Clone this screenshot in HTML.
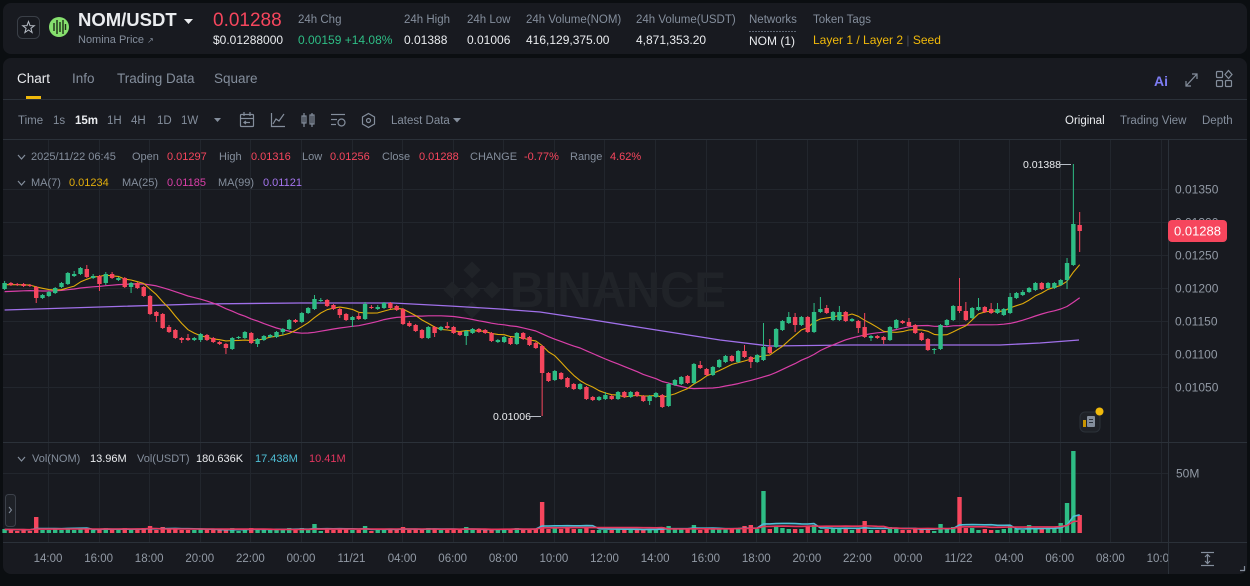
<!DOCTYPE html>
<html><head><meta charset="utf-8">
<style>
html,body{margin:0;padding:0;background:#0b0e11;width:1250px;height:586px;overflow:hidden;font-family:"Liberation Sans",sans-serif;}
.p{position:absolute;background:#181a20;border-radius:8px;}
.t{position:absolute;white-space:nowrap;line-height:1;}
.g{color:#848e9c}.w{color:#eaecef}.r{color:#f6465d}.gr{color:#2ebd85}.y{color:#f0b90b}
svg{position:absolute;left:0;top:0}
</style></head><body>
<div class="p" style="left:3px;top:3px;width:1244px;height:51px"></div>
<div class="p" style="left:3px;top:58px;width:1244px;height:516px"></div>

<svg width="1250" height="586" viewBox="0 0 1250 586">
<defs>
<clipPath id="xc"><rect x="0" y="540" width="1168" height="40"/></clipPath>
<clipPath id="pc"><rect x="3" y="140" width="1165" height="302"/></clipPath>
</defs>
<!-- header icons -->
<rect x="17.5" y="16.5" width="22" height="22" rx="5" fill="none" stroke="#3a3f47"/>
<polygon points="28.5,21.5 30,25.6 34.3,25.7 30.9,28.3 32.1,32.5 28.5,30 24.9,32.5 26.1,28.3 22.7,25.7 27,25.6" fill="none" stroke="#b7bdc6" stroke-width="1"/>
<circle cx="59" cy="27" r="10" fill="#86e06e"/>
<g stroke="#1d2b17" stroke-width="1.4"><line x1="54" y1="23" x2="54" y2="31"/><line x1="57" y1="20" x2="57" y2="34"/><line x1="60" y1="22" x2="60" y2="32"/><line x1="63" y1="20" x2="63" y2="34"/><line x1="65.5" y1="24" x2="65.5" y2="30"/></g>
<polygon points="184,19 193,19 188.5,24" fill="#eaecef"/>
<line x1="749" y1="31.5" x2="797" y2="31.5" stroke="#5e6673" stroke-dasharray="2,1"/>
<!-- tabs -->
<rect x="26" y="96" width="15" height="3" fill="#f0b90b"/>
<line x1="3" y1="99.5" x2="1247" y2="99.5" stroke="#2b3139"/>
<line x1="3" y1="139.5" x2="1247" y2="139.5" stroke="#2b3139"/>
<!-- right top icons -->
<g stroke="#848e9c" stroke-width="1.2" fill="none">
<line x1="1186" y1="86" x2="1197" y2="74"/>
<polyline points="1192,74 1197,74 1197,79"/>
<polyline points="1186,81 1186,86 1191,86"/>
<rect x="1216.5" y="71.5" width="6" height="6" rx="1"/>
<rect x="1216.5" y="80.5" width="6" height="6" rx="1"/>
<rect x="1225.5" y="80.5" width="6" height="6" rx="1"/>
<polygon points="1228.5,70.5 1232,74.5 1228.5,78.5 1225,74.5"/>
</g>
<!-- toolbar icons -->
<polygon points="214,118 221,118 217.5,122" fill="#848e9c"/>
<g stroke="#848e9c" stroke-width="1.2" fill="none">
<rect x="240.5" y="114.5" width="13" height="12" rx="1"/>
<line x1="240.5" y1="118.5" x2="253.5" y2="118.5"/>
<line x1="244" y1="112" x2="244" y2="116"/><line x1="250" y1="112" x2="250" y2="116"/>
<polyline points="246,121 244,122.5 246,124"/><line x1="244" y1="122.5" x2="250" y2="122.5"/>
<polyline points="271.5,113 271.5,126.5 285,126.5"/>
<polyline points="273,124 276,119 279,121 284,114"/>
<line x1="304" y1="113" x2="304" y2="127"/><rect x="302" y="116" width="4" height="7"/>
<line x1="312" y1="113" x2="312" y2="127"/><rect x="310" y="115" width="4" height="9"/>
<line x1="331" y1="114.5" x2="345" y2="114.5"/><line x1="331" y1="119.5" x2="337" y2="119.5"/><line x1="331" y1="124.5" x2="336" y2="124.5"/>
<circle cx="341.5" cy="122.5" r="3.5"/>
<polygon points="368.5,113.5 374.5,117 374.5,124 368.5,127.5 362.5,124 362.5,117"/>
<circle cx="368.5" cy="120.5" r="2"/>
</g>
<polygon points="453,118 461,118 457,122.5" fill="#848e9c"/>

<!-- grid -->
<g id="grid" stroke="#22262d" stroke-width="1"></g>
<!-- watermark -->
<g fill="#202328">
<rect x="466" y="284" width="12" height="12" transform="rotate(45 472 290)"/>
<rect x="466" y="264" width="12" height="12" transform="rotate(45 472 270)"/>
<rect x="466" y="304" width="12" height="12" transform="rotate(45 472 310)"/>
<rect x="446" y="284" width="12" height="12" transform="rotate(45 452 290)"/>
<rect x="486" y="284" width="12" height="12" transform="rotate(45 492 290)"/>
<text x="510" y="307" font-family="Liberation Sans" font-weight="bold" font-size="50" textLength="216" lengthAdjust="spacingAndGlyphs">BINANCE</text>
</g>
<!-- separators -->
<line x1="3" y1="442.5" x2="1247" y2="442.5" stroke="#2b3139"/>
<line x1="3" y1="542.5" x2="1247" y2="542.5" stroke="#2b3139"/>
<line x1="1168.5" y1="140" x2="1168.5" y2="574" stroke="#2b3139"/>
<line x1="3" y1="473.5" x2="1168" y2="473.5" stroke="#22262d"/>

<g id="ma" clip-path="url(#pc)"></g>
<g id="cd"></g>
<g id="vol"></g>

<!-- chevrons -->
<g stroke="#848e9c" stroke-width="1.2" fill="none">
<polyline points="18,155 21.5,159 25,155"/>
<polyline points="18,181 21.5,185 25,181"/>
<polyline points="18,457 21.5,461 25,457"/>
</g>

<!-- price axis -->
<g font-family="Liberation Sans" font-size="12" fill="#929aa5">
<text x="1175" y="193.4">0.01350</text>
<text x="1175" y="226.4">0.01300</text>
<text x="1175" y="259.4">0.01250</text>
<text x="1175" y="292.4">0.01200</text>
<text x="1175" y="325.4">0.01150</text>
<text x="1175" y="358.4">0.01100</text>
<text x="1175" y="391.4">0.01050</text>
<text x="1176" y="477.4">50M</text>
</g>
<rect x="1168" y="220" width="59" height="22" rx="4" fill="#f6465d"/>
<text x="1197.5" y="235.5" text-anchor="middle" font-family="Liberation Sans" font-size="13" fill="#ffffff">0.01288</text>

<!-- max/min labels -->
<text x="1023" y="167.8" font-family="Liberation Sans" font-size="10.5" fill="#eaecef">0.01388</text>
<line x1="1060" y1="164.5" x2="1071" y2="164.5" stroke="#b7bdc6"/>
<text x="493" y="419.8" font-family="Liberation Sans" font-size="10.5" fill="#eaecef">0.01006</text>
<line x1="530" y1="416.5" x2="541" y2="416.5" stroke="#b7bdc6"/>

<!-- news icon -->
<rect x="1080" y="412" width="20" height="20" rx="5" fill="#1f2228" stroke="#2b3139"/>
<rect x="1087" y="416" width="8" height="11" rx="1" fill="#848e9c"/>
<rect x="1083" y="420" width="3" height="7" fill="#c99400"/>
<g stroke="#2b3139"><line x1="1089" y1="419.5" x2="1093" y2="419.5"/><line x1="1089" y1="422.5" x2="1093" y2="422.5"/></g>
<circle cx="1099.5" cy="411.5" r="4" fill="#f0b90b"/>

<!-- left handle -->
<rect x="5.5" y="494.5" width="10" height="32" rx="3" fill="#1e2127" stroke="#3c414a"/>
<polyline points="9,507 11.5,510 9,513" fill="none" stroke="#848e9c" stroke-width="1"/>

<!-- x axis -->
<g id="xl" clip-path="url(#xc)" font-family="Liberation Sans" font-size="11.5" fill="#929aa5" text-anchor="middle"></g>
<g stroke="#848e9c" stroke-width="1.2" fill="none">
<line x1="1201" y1="552.5" x2="1214" y2="552.5"/><line x1="1201" y1="565.5" x2="1214" y2="565.5"/>
<line x1="1207.5" y1="554" x2="1207.5" y2="564"/>
<polyline points="1205,557 1207.5,554.5 1210,557"/><polyline points="1205,561 1207.5,563.5 1210,561"/>
<polyline points="1240,570.5 1244.5,570.5 1244.5,566"/>
</g>
</svg>

<!-- header text -->
<div class="t w" style="left:78px;top:11px;font-size:18.5px;font-weight:bold">NOM/USDT</div>
<div class="t g" style="left:78px;top:34.5px;font-size:11px">Nomina Price <span style="font-size:8px">&#8599;</span></div>
<div class="t r" style="left:213px;top:10.5px;font-size:19px">0.01288</div>
<div class="t w" style="left:213px;top:34px;font-size:12px">$0.01288000</div>
<div class="t g" style="left:298px;top:15px;font-size:11.5px">24h Chg</div>
<div class="t gr" style="left:298px;top:34px;font-size:12px">0.00159 +14.08%</div>
<div class="t g" style="left:404px;top:15px;font-size:11.5px">24h High</div>
<div class="t w" style="left:404px;top:34px;font-size:12px">0.01388</div>
<div class="t g" style="left:467px;top:15px;font-size:11.5px">24h Low</div>
<div class="t w" style="left:467px;top:34px;font-size:12px">0.01006</div>
<div class="t g" style="left:526px;top:15px;font-size:11.5px">24h Volume(NOM)</div>
<div class="t w" style="left:526px;top:34px;font-size:12px">416,129,375.00</div>
<div class="t g" style="left:636px;top:15px;font-size:11.5px">24h Volume(USDT)</div>
<div class="t w" style="left:636px;top:34px;font-size:12px">4,871,353.20</div>
<div class="t g" style="left:749px;top:15px;font-size:11.5px">Networks</div>
<div class="t w" style="left:749px;top:35px;font-size:12px">NOM (1)</div>
<div class="t g" style="left:813px;top:15px;font-size:11.5px">Token Tags</div>
<div class="t y" style="left:813px;top:34px;font-size:12px">Layer 1 / Layer 2 <span style="color:#474d57">|</span> Seed</div>

<!-- tabs -->
<div class="t w" style="left:17px;top:71.5px;font-size:13.5px">Chart</div>
<div class="t g" style="left:72px;top:71.5px;font-size:13.5px">Info</div>
<div class="t g" style="left:117px;top:71.5px;font-size:13.5px">Trading Data</div>
<div class="t g" style="left:214px;top:71.5px;font-size:13.5px">Square</div>
<div class="t" style="left:1154px;top:74px;font-size:14px;font-weight:bold;color:#7d7cf3">Ai</div>

<!-- toolbar -->
<div class="t g" style="left:18px;top:116px;font-size:11.5px">Time</div>
<div class="t g" style="left:53px;top:116px;font-size:11.5px">1s</div>
<div class="t w" style="left:75px;top:116px;font-size:11.5px;font-weight:bold">15m</div>
<div class="t g" style="left:107px;top:116px;font-size:11.5px">1H</div>
<div class="t g" style="left:131px;top:116px;font-size:11.5px">4H</div>
<div class="t g" style="left:157px;top:116px;font-size:11.5px">1D</div>
<div class="t g" style="left:181px;top:116px;font-size:11.5px">1W</div>
<div class="t g" style="left:391px;top:116px;font-size:11.5px">Latest Data</div>
<div class="t w" style="left:1065px;top:116px;font-size:11.5px">Original</div>
<div class="t g" style="left:1120px;top:116px;font-size:11.5px">Trading View</div>
<div class="t g" style="left:1202px;top:116px;font-size:11.5px">Depth</div>

<!-- OHLC row -->
<div class="t g" style="left:31px;top:151.5px;font-size:11px">2025/11/22 06:45</div>
<div class="t g" style="left:132px;top:151.5px;font-size:11px">Open</div>
<div class="t r" style="left:167px;top:151.5px;font-size:11px">0.01297</div>
<div class="t g" style="left:219px;top:151.5px;font-size:11px">High</div>
<div class="t r" style="left:251px;top:151.5px;font-size:11px">0.01316</div>
<div class="t g" style="left:302px;top:151.5px;font-size:11px">Low</div>
<div class="t r" style="left:330px;top:151.5px;font-size:11px">0.01256</div>
<div class="t g" style="left:382px;top:151.5px;font-size:11px">Close</div>
<div class="t r" style="left:419px;top:151.5px;font-size:11px">0.01288</div>
<div class="t g" style="left:470px;top:151.5px;font-size:11px">CHANGE</div>
<div class="t r" style="left:524px;top:151.5px;font-size:11px">-0.77%</div>
<div class="t g" style="left:570px;top:151.5px;font-size:11px">Range</div>
<div class="t r" style="left:610px;top:151.5px;font-size:11px">4.62%</div>
<!-- MA row -->
<div class="t g" style="left:31px;top:177.5px;font-size:11px">MA(7)</div>
<div class="t" style="left:69px;top:177.5px;font-size:11px;color:#e2ad0b">0.01234</div>
<div class="t g" style="left:122px;top:177.5px;font-size:11px">MA(25)</div>
<div class="t" style="left:167px;top:177.5px;font-size:11px;color:#d93fa8">0.01185</div>
<div class="t g" style="left:218px;top:177.5px;font-size:11px">MA(99)</div>
<div class="t" style="left:263px;top:177.5px;font-size:11px;color:#a575ee">0.01121</div>
<!-- Vol row -->
<div class="t g" style="left:32px;top:453.5px;font-size:11px">Vol(NOM)</div>
<div class="t w" style="left:90px;top:453.5px;font-size:11px">13.96M</div>
<div class="t g" style="left:137px;top:453.5px;font-size:11px">Vol(USDT)</div>
<div class="t w" style="left:196px;top:453.5px;font-size:11px">180.636K</div>
<div class="t" style="left:255px;top:453.5px;font-size:11px;color:#4fbfd6">17.438M</div>
<div class="t" style="left:309px;top:453.5px;font-size:11px;color:#e3365f">10.41M</div>

<script>
(function(){
var D=[
[289,283,281,290],[283,285],[284,285],[284,286],[285,286],[287,298,286,303],[298,295],[296,292],[293,288],[287,283],
[284,273,272],[276,274,271],[274,268,267],[269,277,265],[278,276,274],[276,284,0,291],[283,274,272,285],[274,278,272],[280,278,0,281],[278,287],
[287,283,0,293],[283,288],[287,296],[296,314],[312,316,0,322],[314,328,313],[327,332,325],[330,338],[338,340,0,343],[338,340,334],
[340,338],[340,334,333,342],[335,340],[338,342],[342,344],[344,348,0,354],[349,338],[338,337,336],[338,332],[333,343,0,344],
[344,339,0,347],[340,336],[337,335],[337,332],[332,329,0,335],[329,320],[320,322],[322,313],[313,308],[309,299,295],
[301,300,298,302],[300,306],[305,309],[309,315,0,318],[314,320],[320,317,0,327],[316,319,313],[319,304,302],[307,308,305],[309,307,305],
[308,303,302],[303,308,302],[306,310],[309,324],[323,326,321],[325,331],[330,338,0,339],[338,327],[327,333,0,337],[330,327],
[326,328,322],[327,333],[332,335],[336,331,0,345],[333,329],[329,332],[330,333],[333,341],[342,340],[342,337],
[338,344],[344,333],[333,339],[337,345],[343,348],[346,373,0,416],[373,381],[380,371],[373,379],[378,387],
[384,389],[389,384],[387,399],[397,400],[400,397],[399,395,392],[396,399],[399,392],[392,397],[397,392],
[392,396],[396,401],[401,396,0,405],[397,393],[395,407],[406,384],[385,380],[384,377],[376,383],[383,364],
[365,368,361],[369,375],[375,367],[367,360],[362,356],[356,361],[362,351],[351,357,345],[357,362,0,368],[362,355],
[360,347,323],[347,353,339],[347,329],[330,321],[323,317,312],[317,325,313,332],[325,317],[317,332],[332,312,303],[312,309,297],
[308,313,305],[320,312],[320,312,306],[312,321],[321,319],[321,328,0,333],[327,337,313],[338,336,0,341],[336,338],[337,340,0,344],
[340,327],[328,320],[321,323],[322,326,318],[325,333],[333,340],[339,350],[350,349,0,354],[349,325],[325,320],
[320,306],[306,311,278,313],[311,320,302],[318,308],[310,307,298],[307,312],[309,313,303],[313,309,303],[315,309],[313,297,293],
[298,293],[295,292,290],[292,288],[290,283],[283,289],[288,283],[288,283],[285,280],[280,263,258,289],[265,224,164],
[225,231,212,252]
];
var X0=4.6,DX=6.324,BW=4.4,GC='#2ebd85',RC='#f6465d';
var ov={5:16,49:9,63:6,73:6,85:31,105:7,109:8,117:7,118:8,120:42,136:12,151:36,162:8,167:10,168:30,169:82,170:18};
var s='',vs='',closes=[],vol=[];
for(var i=0;i<D.length;i++){
 var d=D[i],o=d[0],c=d[1];
 var h=d[2]||Math.min(o,c)-1,l=d[3]||Math.max(o,c)+1;
 var x=X0+DX*i,col=c<=o?GC:RC;
 var top=Math.min(o,c),bh=Math.max(1,Math.abs(o-c));
 s+='<line x1="'+x.toFixed(2)+'" y1="'+h+'" x2="'+x.toFixed(2)+'" y2="'+l+'" stroke="'+col+'" stroke-width="1"/>';
 s+='<rect x="'+(x-BW/2).toFixed(2)+'" y="'+top+'" width="'+BW+'" height="'+bh+'" fill="'+col+'"/>';
 var v=(ov[i]!==undefined)?ov[i]:2+Math.round(Math.abs(o-c)*0.3);
 vol.push(v);closes.push(c);
 vs+='<rect x="'+(x-BW/2).toFixed(2)+'" y="'+(533-v)+'" width="'+BW+'" height="'+v+'" fill="'+col+'"/>';
}
function ma(a,n,pad){var r=[];for(var i=0;i<a.length;i++){var sm=0;for(var k=i-n+1;k<=i;k++){sm+=k<0?pad:a[k];}r.push(sm/n);}return r;}
function pl(vals,color,w){var p=[];for(var i=0;i<vals.length;i++){p.push((X0+DX*i).toFixed(1)+','+vals[i].toFixed(1));}return '<polyline fill="none" stroke="'+color+'" stroke-width="'+w+'" stroke-linejoin="round" points="'+p.join(' ')+'"/>';}
var m99='<polyline fill="none" stroke="#a070ea" stroke-width="1.3" points="4.6,310 100,307 200,304 300,303 393,303 450,306 500,309 540,312 593,320 650,329 720,340 770,346 850,345 950,345 1000,345 1040,343 1079,340"/>';
document.getElementById('ma').innerHTML=m99+pl(ma(closes,25,292),'#d93fa8',1.2)+pl(ma(closes,7,285),'#e0aa0a',1.1);
document.getElementById('cd').innerHTML=s;
var vm1=ma(vol,9,3.5).map(function(v){return 533-v;}),vm2=ma(vol,20,3.5).map(function(v){return 533-v;});
document.getElementById('vol').innerHTML=vs+pl(vm1,'#4fbfd6',1.6)+pl(vm2,'#e8365d',1.6);
var g='';
[189,222,255,288,321,354,387].forEach(function(y){g+='<line x1="3" y1="'+(y+0.5)+'" x2="1168" y2="'+(y+0.5)+'"/>';});
var labs=['14:00','16:00','18:00','20:00','22:00','00:00','11/21','04:00','06:00','08:00','10:00','12:00','14:00','16:00','18:00','20:00','22:00','00:00','11/22','04:00','06:00','08:00','10:00'];
var xl='';
for(var k=0;k<23;k++){var gx=48+50.59*k;g+='<line x1="'+(Math.round(gx)+0.5)+'" y1="140" x2="'+(Math.round(gx)+0.5)+'" y2="542"/>';xl+='<text x="'+gx.toFixed(1)+'" y="562.2">'+labs[k]+'</text>';}
document.getElementById('grid').innerHTML=g;
document.getElementById('xl').innerHTML=xl;
})();
</script>
</body></html>
